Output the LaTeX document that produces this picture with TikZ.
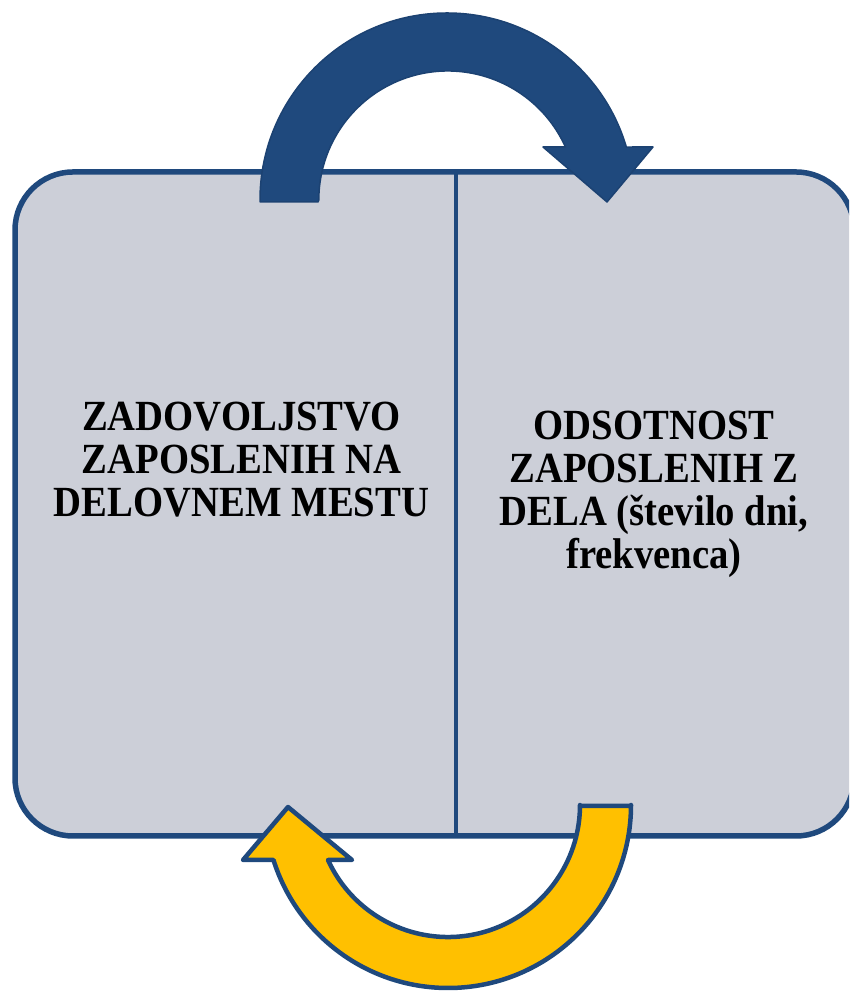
\documentclass[tikz,border=0pt]{standalone}
\usepackage{fontspec}
\newfontfamily\lblfont{Liberation Serif}[FakeStretch=0.9]
\definecolor{boxfill}{RGB}{204,207,216}
\definecolor{navy}{RGB}{31,73,125}
\definecolor{navydark}{RGB}{28,66,114}
\definecolor{gold}{RGB}{255,192,0}
\tikzset{
  panel/.style={draw=navy, line width=5.5pt, fill=boxfill, rounded corners=58pt,
    minimum width=839pt, minimum height=664pt, inner sep=0pt},
  divider/.style={draw=navy, line width=3.5pt},
  bluearrow/.style={fill=navy, draw=navydark, line width=1.5pt, line join=round},
  goldarrow/.style={fill=gold, draw=navy, line width=4.5pt, line join=round},
  lbl/.style={font=\lblfont\bfseries\fontsize{43}{45}\selectfont, text=black, anchor=base, inner sep=0pt}
}
\begin{document}
\begin{tikzpicture}[x=1pt,y=1pt]
\useasboundingbox (0,0) rectangle (849,992);
\clip (0,0) rectangle (849,992);
% main panel
\node[panel] (box) at (434.5,488) {};
\coordinate (divtop) at (456,820);
\coordinate (divbot) at (456,156);
\draw[divider] (divtop) -- (divbot);
% text
\node[lbl] (l1) at (241.5,561) {ZADOVOLJSTVO};
\node[lbl] (l2) at (241.5,518) {ZAPOSLENIH NA};
\node[lbl] (l3) at (241.5,475) {DELOVNEM MESTU};
\node[lbl] (r1) at (654,552) {ODSOTNOST};
\node[lbl] (r2) at (654,509) {ZAPOSLENIH Z};
\node[lbl] (r3) at (654,466) {DELA (število dni,};
\node[lbl] (r4) at (654,423) {frekvenca)};
% top blue circular arrow
\path[bluearrow] (260,790) -- (260,792) arc[start angle=180, end angle=16.46, radius=187pt]
  -- (653,845) -- (607,790) -- (543,845) -- (565.4,845)
  arc[start angle=24.26, end angle=180, radius=129pt] -- (318,790) -- cycle;
% bottom gold circular arrow
\path[goldarrow] (631,186) -- (631,187) arc[start angle=0, end angle=-162.51, radius=183pt]
  -- (243,132) -- (288,185) -- (352,132) -- (328,132)
  arc[start angle=-155.38, end angle=0, radius=132pt] -- (580,186) -- cycle;
\end{tikzpicture}
\end{document}
